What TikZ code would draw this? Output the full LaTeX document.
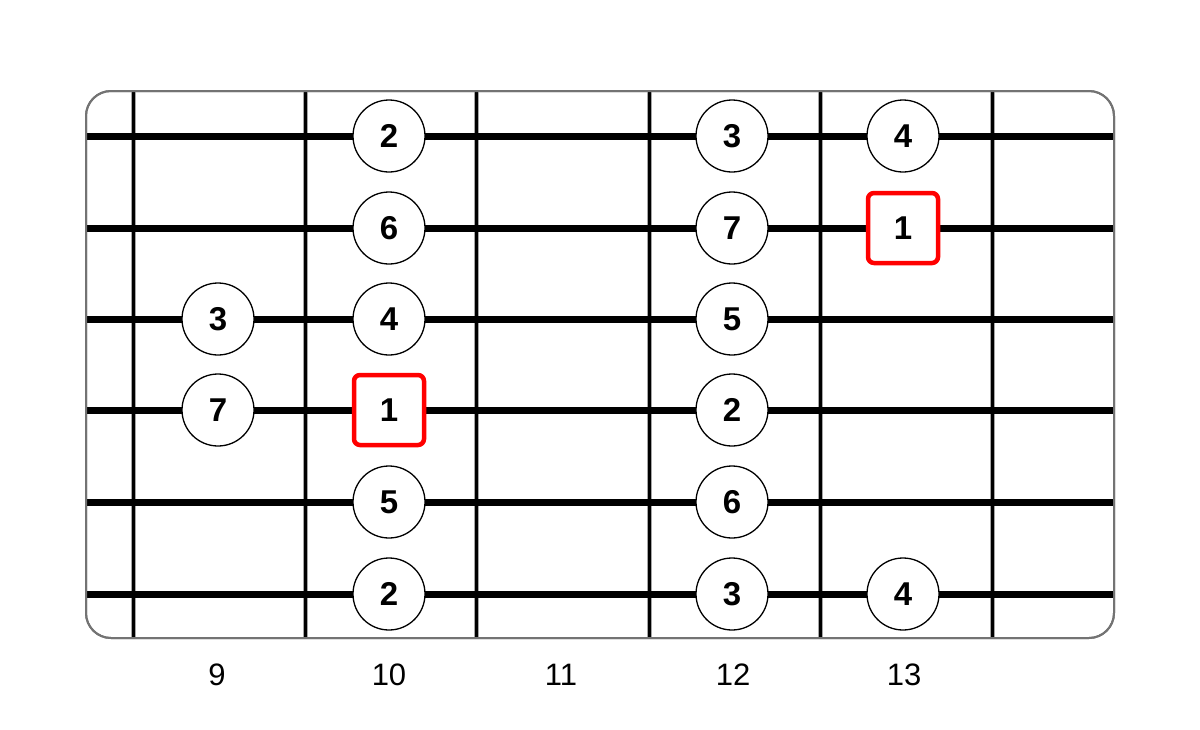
\documentclass[tikz,border=0pt]{standalone}
\usepackage{fontspec}
\setmainfont{Liberation Sans}
\begin{document}
\begin{tikzpicture}[x=1pt,y=-1pt,
  board/.style={draw=black!55,line width=2pt,rounded corners=25pt,fill=white},
  fretline/.style={line width=3pt,draw=black},
  fretedge/.style={line width=5pt,draw=black!35},
  stringline/.style={line width=7pt,draw=black},
  note/.style={circle,draw=black,line width=1.3pt,fill=white,minimum size=72pt,inner sep=0pt,font=\fontsize{33}{33}\selectfont\bfseries},
  root/.style={rectangle,rounded corners=6pt,draw=red,line width=4.5pt,fill=white,minimum size=70pt,inner sep=0pt,font=\fontsize{33}{33}\selectfont\bfseries},
  fretnum/.style={font=\fontsize{31}{31}\selectfont}]
\useasboundingbox (0,0) rectangle (1200,729);
\path[board] (86,91) rectangle (1114,638);
\begin{scope}
\clip[rounded corners=25pt] (86,91) rectangle (1114,638);
\foreach \x in {133,305,476,649,820,992} {
  \draw[fretedge] (\x,91) -- (\x,638);
  \draw[fretline] (\x,91) -- (\x,638);
}
\foreach \y in {136,228,319,410,502,594} {
  \draw[stringline] (86,\y) -- (1114,\y);
}
\end{scope}
\draw[black!55,line width=2pt,rounded corners=25pt] (86,91) rectangle (1114,638);
% string 1
\node[note] (s1a) at (389,136) {2};
\node[note] (s1b) at (732,136) {3};
\node[note] (s1c) at (903,136) {4};
% string 2
\node[note] (s2a) at (389,228) {6};
\node[note] (s2b) at (732,228) {7};
\node[root] (s2c) at (903,228) {1};
% string 3
\node[note] (s3a) at (218,319) {3};
\node[note] (s3b) at (389,319) {4};
\node[note] (s3c) at (732,319) {5};
% string 4
\node[note] (s4a) at (218,410) {7};
\node[root] (s4b) at (389,410) {1};
\node[note] (s4c) at (732,410) {2};
% string 5
\node[note] (s5a) at (389,502) {5};
\node[note] (s5b) at (732,502) {6};
% string 6
\node[note] (s6a) at (389,594) {2};
\node[note] (s6b) at (732,594) {3};
\node[note] (s6c) at (903,594) {4};
% fret numbers
\node[fretnum] (f9) at (217,675) {9};
\node[fretnum] (f10) at (389,675) {10};
\node[fretnum] (f11) at (561,675) {11};
\node[fretnum] (f12) at (733,675) {12};
\node[fretnum] (f13) at (904,675) {13};
\end{tikzpicture}
\end{document}
